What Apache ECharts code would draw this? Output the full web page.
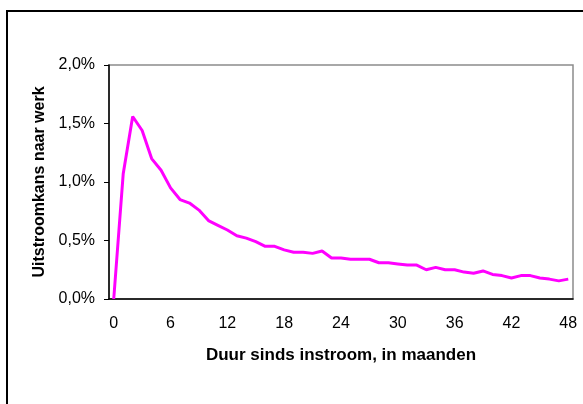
<!DOCTYPE html>
<html><head><meta charset="utf-8">
<script src="https://cdn.jsdelivr.net/npm/echarts@6/dist/echarts.min.js"></script>
<style>html,body{margin:0;padding:0;background:#fff}#c{width:583px;height:404px}</style>
</head><body><div id="c"></div>
<script>
var months = [];
for (var i = 0; i <= 48; i++) months.push(String(i));
var uitstroomkans = [0.00,1.07,1.56,1.44,1.20,1.10,0.95,0.85,0.82,0.76,0.67,0.63,0.59,0.54,0.52,0.49,0.45,0.45,0.42,0.40,0.40,0.39,0.41,0.35,0.35,0.34,0.34,0.34,0.31,0.31,0.30,0.29,0.29,0.25,0.27,0.25,0.25,0.23,0.22,0.24,0.21,0.20,0.18,0.20,0.20,0.18,0.17,0.155,0.17];
var yTicks = [0, 0.5, 1.0, 1.5, 2.0];
var xTitle = 'Duur sinds instroom, in maanden';
var yTitle = 'Uitstroomkans naar werk';

var chart = echarts.init(document.getElementById('c'), null, {renderer:'canvas'});
var font = 'Liberation Sans, Arial, sans-serif';
chart.setOption({
  animation: false,
  graphic: [{type:'rect', shape:{x:7, y:11, width:700, height:600}, style:{fill:'none', stroke:'#000', lineWidth:2}, z:-1}],
  grid: {left:109, top:65, width:464, height:234, show:true, borderColor:'#8c8c8c', borderWidth:1.5, backgroundColor:'#fff'},
  xAxis: {
    type:'category', data: months, boundaryGap:true,
    name: xTitle, nameLocation:'middle', nameGap:48,
    nameTextStyle:{fontFamily:font, fontWeight:'bold', fontSize:17, color:'#000'},
    axisLine:{lineStyle:{color:'#000', width:1.5}},
    axisTick:{interval:5, length:5, lineStyle:{color:'#000'}},
    axisLabel:{interval:5, margin:17, fontFamily:font, fontSize:16, color:'#000'},
    splitLine:{show:false}
  },
  yAxis: {
    type:'value', min:yTicks[0], max:yTicks[yTicks.length-1], interval:0.5,
    name: yTitle, nameLocation:'middle', nameGap:58, nameRotate:90,
    nameTextStyle:{fontFamily:font, fontWeight:'bold', fontSize:16, color:'#000'},
    axisLine:{show:true, lineStyle:{color:'#000', width:1.5}},
    axisTick:{show:true, length:5, lineStyle:{color:'#000'}},
    axisLabel:{margin:14, fontFamily:font, fontSize:16, color:'#000',
      formatter:function(v){return v.toFixed(1).replace('.', ',') + '%';}},
    splitLine:{show:false}
  },
  series: [{type:'line', data: uitstroomkans, showSymbol:false, symbol:'none',
    lineStyle:{color:'#ff00ff', width:3}, itemStyle:{color:'#ff00ff'}}]
});
</script></body></html>
